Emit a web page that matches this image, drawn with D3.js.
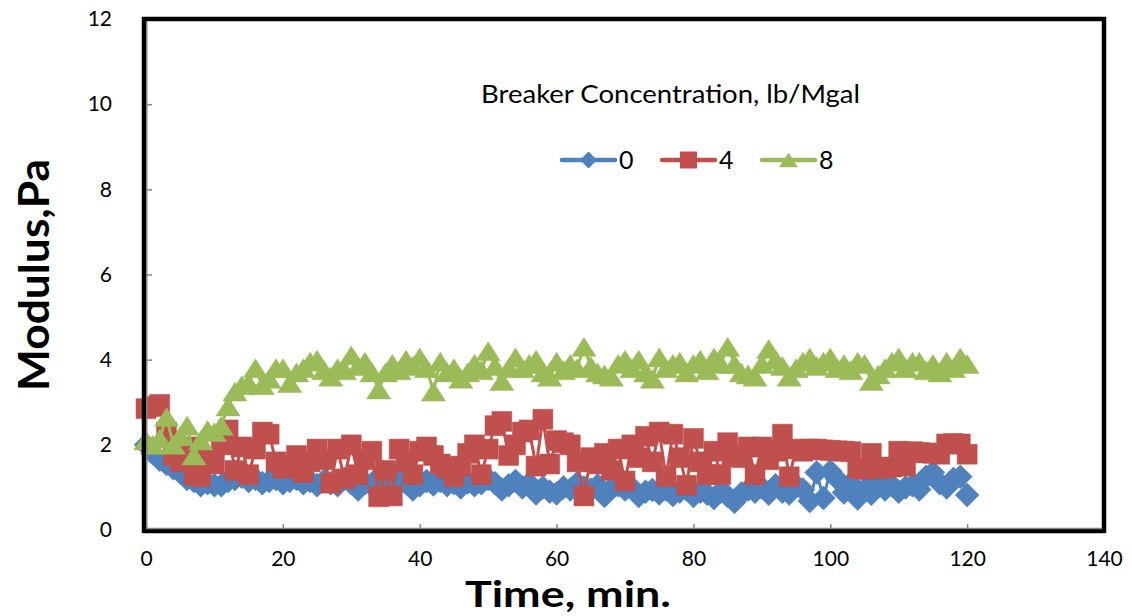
<!DOCTYPE html>
<html>
<head>
<meta charset="utf-8">
<script src="https://cdn.jsdelivr.net/npm/d3@7"></script>
<style>
  html, body { margin: 0; padding: 0; background: #fff; }
  svg { display: block; font-family: Lato, "Open Sans", sans-serif; }
</style>
</head>
<body>
<svg id="chart" width="1132" height="616"></svg>
<script>
// time, min. (one reading per minute)
const times = [
  0, 1, 2, 3, 4, 5, 6, 7, 8, 9, 10, 11, 12, 13, 14, 15, 16, 17, 18, 19,
  20, 21, 22, 23, 24, 25, 26, 27, 28, 29, 30, 31, 32, 33, 34, 35, 36, 37, 38, 39,
  40, 41, 42, 43, 44, 45, 46, 47, 48, 49, 50, 51, 52, 53, 54, 55, 56, 57, 58, 59,
  60, 61, 62, 63, 64, 65, 66, 67, 68, 69, 70, 71, 72, 73, 74, 75, 76, 77, 78, 79,
  80, 81, 82, 83, 84, 85, 86, 87, 88, 89, 90, 91, 92, 93, 94, 95, 96, 97, 98, 99,
  100, 101, 102, 103, 104, 105, 106, 107, 108, 109, 110, 111, 112, 113, 114, 115, 116, 117, 118, 119,
  120
];

// modulus, Pa - breaker 0 lb/Mgal
const modulus0 = [
  2.0, 1.8, 1.65, 1.55, 1.45, 1.35, 1.2, 1.15, 1.05, 1.1, 1.05, 1.05, 1.15, 1.2, 1.25, 1.15, 1.2, 1.1, 1.15, 1.2,
  1.1, 1.15, 1.2, 1.1, 1.15, 1.05, 1.15, 1.1, 1.05, 1.2, 1.1, 0.95, 1.1, 1.05, 1.25, 1.1, 1.05, 1.15, 1.1, 0.95,
  1.05, 1.15, 1.07, 1.15, 1.05, 1.1, 1.0, 1.12, 1.05, 1.1, 1.2, 1.1, 0.95, 1.05, 1.15, 1.0, 1.1, 0.86, 1.0, 0.9,
  0.86, 1.0, 0.95, 1.1, 1.0, 0.95, 1.05, 0.8, 0.97, 1.05, 0.95, 1.0, 0.8, 0.9, 0.94, 0.86, 0.95, 0.82, 0.9, 0.95,
  0.8, 0.9, 0.85, 0.75, 0.9, 0.8, 0.66, 0.86, 0.95, 0.9, 1.0, 0.85, 1.05, 0.9, 0.86, 1.05, 0.95, 0.68, 1.35, 0.75,
  1.38, 1.2, 0.88, 1.1, 0.74, 0.95, 0.85, 1.15, 0.95, 1.05, 0.9, 1.0, 1.05, 0.95, 1.25, 1.35, 1.1, 1.0, 1.2, 1.25,
  0.82
];

// modulus, Pa - breaker 4 lb/Mgal
const modulus4 = [
  2.85, 2.9, 2.95, 2.3, 1.75, 1.6, 1.95, 1.3, 1.25, 1.7, 1.55, 2.0, 2.35, 1.4, 1.95, 1.3, 1.9, 2.3, 2.25, 1.6,
  1.45, 1.5, 1.75, 1.35, 1.6, 1.9, 1.65, 1.1, 1.9, 1.2, 2.0, 1.3, 1.65, 1.85, 0.78, 1.4, 0.8, 1.9, 1.6, 1.3,
  1.85, 1.95, 1.75, 1.55, 1.45, 1.25, 1.5, 1.8, 2.0, 1.3, 1.9, 2.45, 2.55, 1.75, 2.0, 2.3, 2.35, 1.5, 2.6, 1.55,
  2.1, 2.05, 2.0, 1.6, 0.8, 1.7, 1.55, 1.8, 1.4, 1.9, 1.15, 2.0, 1.7, 2.2, 1.6, 2.3, 1.25, 2.25, 1.7, 1.05,
  2.15, 1.6, 1.3, 1.85, 1.3, 2.05, 1.75, 1.7, 1.95, 1.3, 1.95, 1.65, 1.85, 2.25, 1.25, 1.9, 1.85, 1.9, 1.9, 1.88,
  1.87, 1.86, 1.85, 1.84, 1.45, 1.42, 1.8, 1.44, 1.46, 1.48, 1.85, 1.5, 1.84, 1.82, 1.81, 1.8, 1.78, 2.02, 2.03, 2.02,
  1.78
];

// modulus, Pa - breaker 8 lb/Mgal
const modulus8 = [
  2.1, 2.0, 2.15, 2.65, 2.0, 2.2, 2.45, 1.75, 2.1, 2.35, 2.3, 2.45, 2.9, 3.25, 3.4, 3.45, 3.8, 3.4, 3.55, 3.8,
  3.8, 3.45, 3.7, 3.8, 3.95, 4.0, 3.75, 3.6, 3.8, 3.75, 4.1, 3.85, 3.95, 3.7, 3.3, 3.7, 3.9, 3.75, 4.0, 3.85,
  4.05, 3.8, 3.25, 3.95, 3.7, 3.8, 3.55, 3.7, 3.9, 3.75, 4.2, 3.85, 3.5, 3.8, 4.05, 3.8, 3.9, 4.0, 3.7, 3.6,
  3.95, 3.75, 3.9, 3.8, 4.3, 3.85, 3.7, 3.65, 3.6, 3.9, 4.0, 3.8, 4.0, 3.7, 3.55, 4.05, 3.8, 3.9, 3.95, 3.7,
  3.9, 4.0, 3.75, 4.05, 3.9, 4.3, 3.9, 3.7, 3.65, 3.6, 3.9, 4.25, 4.0, 3.85, 3.6, 3.8, 3.95, 4.05, 3.85, 3.95,
  4.05, 3.8, 3.9, 3.75, 3.95, 3.9, 3.5, 3.65, 3.8, 3.95, 4.05, 3.8, 3.95, 3.95, 3.75, 3.9, 3.7, 3.95, 3.8, 4.05,
  3.9
];

const seriesNames = ['0', '4', '8'];
const seriesColors = ['#4f81bd', '#c0504d', '#9bbb59'];
const seriesShapes = ['diamond', 'square', 'triangle'];
const xTicks = [0, 20, 40, 60, 80, 100, 120, 140];
const yTicks = [0, 2, 4, 6, 8, 10, 12];

(function() {
  'use strict';

  const svg = d3.select('#chart');
  const plot = { left: 146, right: 1104, top: 19, bottom: 530 };

  const x = d3.scaleLinear().domain([0, 140]).range([plot.left, plot.right]);
  const y = d3.scaleLinear().domain([0, 12]).range([plot.bottom, plot.top]);

  // marker path centred on 0,0
  function markerPath(shape, s) {
    const h = s / 2;
    if (shape === 'diamond') return `M0,${-h}L${h},0L0,${h}L${-h},0Z`;
    if (shape === 'square') return `M${-h},${-h}H${h}V${h}H${-h}Z`;
    return `M0,${-h * 0.86}L${h * 1.1},${h * 0.86}L${-h * 1.1},${h * 0.86}Z`;
  }

  const allSeries = [modulus0, modulus4, modulus8].map((vals, i) => ({
    name: seriesNames[i],
    color: seriesColors[i],
    shape: seriesShapes[i],
    points: times.map((t, j) => ({ t, v: vals[j] }))
  }));

  // axes (ticks pointing inward, gray)
  const xAxis = svg.append('g')
    .attr('transform', `translate(0,${plot.bottom})`)
    .call(d3.axisBottom(x).tickValues(xTicks).tickSize(-6).tickPadding(21));
  const yAxis = svg.append('g')
    .attr('transform', `translate(${plot.left},0)`)
    .call(d3.axisLeft(y).tickValues(yTicks).tickSize(-6).tickPadding(34));

  [xAxis, yAxis].forEach(ax => {
    ax.select('.domain').remove();
    ax.selectAll('.tick line').attr('stroke', '#868686').attr('stroke-width', 1.5);
    ax.selectAll('.tick text')
      .attr('fill', '#000')
      .style('font-size', '21px')
      .style('font-family', 'Lato, "Open Sans", sans-serif');
  });

  // data
  const line = d3.line().x(d => x(d.t)).y(d => y(d.v));
  const layers = svg.append('g');

  allSeries.forEach(s => {
    const g = layers.append('g');
    g.append('path')
      .datum(s.points)
      .attr('d', line)
      .attr('fill', 'none')
      .attr('stroke', s.color)
      .attr('stroke-width', 3);

    const size = s.shape === 'diamond' ? 24 : s.shape === 'square' ? 20 : 22;
    g.selectAll('path.mk')
      .data(s.points)
      .enter()
      .append('path')
      .attr('class', 'mk')
      .attr('transform', d => `translate(${x(d.t)},${y(d.v)})`)
      .attr('d', markerPath(s.shape, size))
      .attr('fill', s.color)
      .attr('stroke', s.color)
      .attr('stroke-opacity', 0.6)
      .attr('stroke-width', 0.8);
  });

  // plot frame: black border with gray axis lines inside
  svg.append('rect')
    .attr('x', plot.left - 2)
    .attr('y', plot.top)
    .attr('width', plot.right - plot.left + 2)
    .attr('height', plot.bottom - plot.top + 1)
    .attr('fill', 'none')
    .attr('stroke', '#000')
    .attr('stroke-width', 4.5);
  svg.append('line')
    .attr('x1', plot.left + 0.8).attr('x2', plot.left + 0.8)
    .attr('y1', plot.top + 2).attr('y2', plot.bottom - 1)
    .attr('stroke', '#868686').attr('stroke-width', 1.5);
  svg.append('line')
    .attr('x1', plot.left + 0.8).attr('x2', plot.right - 2)
    .attr('y1', plot.bottom - 1.5).attr('y2', plot.bottom - 1.5)
    .attr('stroke', '#868686').attr('stroke-width', 1.5);

  // legend
  svg.append('text')
    .attr('x', 481)
    .attr('y', 103)
    .attr('textLength', 379)
    .attr('lengthAdjust', 'spacingAndGlyphs')
    .style('font-size', '25px')
    .text('Breaker Concentration, lb/Mgal');

  const legendX = [562, 662, 762];
  allSeries.forEach((s, i) => {
    const lg = svg.append('g').attr('transform', `translate(${legendX[i]},160)`);
    lg.append('line')
      .attr('x1', 0).attr('x2', 53)
      .attr('stroke', s.color)
      .attr('stroke-width', 4.5)
      .attr('stroke-linecap', 'round');
    lg.append('path')
      .attr('transform', 'translate(26.5,0)')
      .attr('d', markerPath(s.shape, 17))
      .attr('fill', s.color);
    lg.append('text')
      .attr('x', 57)
      .attr('y', 9)
      .style('font-size', '25px')
      .text(s.name);
  });

  // axis titles
  svg.append('text')
    .attr('x', 568)
    .attr('y', 607)
    .attr('text-anchor', 'middle')
    .attr('textLength', 206)
    .attr('lengthAdjust', 'spacingAndGlyphs')
    .style('font-size', '37px')
    .style('font-weight', 'bold')
    .text('Time, min.');

  svg.append('text')
    .attr('transform', 'translate(49,275) rotate(-90)')
    .attr('text-anchor', 'middle')
    .attr('textLength', 232)
    .attr('lengthAdjust', 'spacingAndGlyphs')
    .style('font-size', '42px')
    .style('font-weight', 'bold')
    .text('Modulus,Pa');
})();
</script>
</body>
</html>
